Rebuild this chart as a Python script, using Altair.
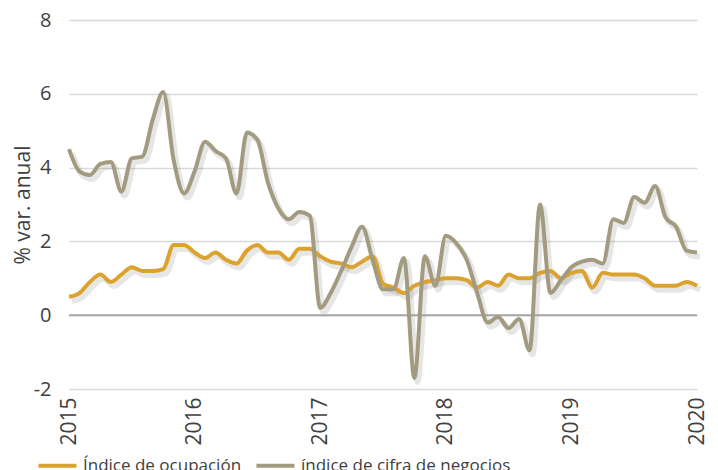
import altair as alt
import pandas as pd

ocupacion = [
    0.5, 0.6, 0.9, 1.1, 0.9, 1.1, 1.3, 1.2, 1.2, 1.25, 1.9, 1.9,
    1.7, 1.55, 1.7, 1.5, 1.4, 1.75, 1.9, 1.7, 1.7, 1.5, 1.8, 1.8,
    1.6, 1.45, 1.4, 1.3, 1.45, 1.6, 0.85, 0.75, 0.6, 0.8, 0.9, 0.95,
    1.0, 1.0, 0.95, 0.75, 0.9, 0.8, 1.1, 1.0, 1.0, 1.15, 1.2, 1.0,
    1.15, 1.2, 0.75, 1.15, 1.1, 1.1, 1.1, 1.0, 0.8, 0.8, 0.8, 0.9,
    0.8,
]
cifra = [
    4.5, 3.9, 3.8, 4.1, 4.15, 3.35, 4.25, 4.3, 5.3, 6.05, 4.2, 3.3,
    3.9, 4.7, 4.45, 4.25, 3.3, 4.95, 4.75, 3.6, 2.9, 2.6, 2.8, 2.7,
    0.2, 0.6, 1.2, 1.85, 2.4, 1.5, 0.7, 0.7, 1.55, -1.7, 1.6, 0.8,
    2.15, 1.95, 1.5, 0.6, -0.2, -0.05, -0.35, -0.1, -0.95, 3.0, 0.6, 0.95,
    1.3, 1.45, 1.5, 1.4, 2.6, 2.5, 3.2, 3.05, 3.5, 2.65, 2.4, 1.75,
    1.7,
]
series_names = ["Índice de ocupación", "índice de cifra de negocios"]
colors = ["#DCA22E", "#A39B7F"]
year_ticks = [2015, 2016, 2017, 2018, 2019, 2020]
y_ticks = [-2, 0, 2, 4, 6, 8]

rows = []
for name, vals in zip(series_names, [ocupacion, cifra]):
    for i, v in enumerate(vals):
        rows.append({"serie": name, "t": 2015 + i / 12, "v": v})
df = pd.DataFrame(rows)

FONT = "Open Sans"
TXT = "#404040"

x_enc = alt.X("t:Q", scale=alt.Scale(domain=[2015, 2020], nice=False),
              axis=alt.Axis(values=year_ticks, labelExpr="toString(datum.value)",
                            labelAngle=270, grid=False, domain=False, ticks=False,
                            labelFontSize=21, labelPadding=8, title=None,
                            labelColor=TXT, labelFont=FONT))
y_enc = alt.Y("v:Q", scale=alt.Scale(domain=[-2, 8], nice=False, zero=False),
              axis=alt.Axis(values=y_ticks, labelExpr="toString(datum.value)",
                            domain=False, ticks=False, grid=True,
                            gridColor="#d9d9d9", gridWidth=1.5,
                            labelFontSize=20, labelPadding=18,
                            labelColor=TXT, labelFont=FONT,
                            title="% var. anual", titleFontSize=21,
                            titleFontWeight="normal", titleColor=TXT,
                            titleFont=FONT, titlePadding=0))

base = alt.Chart(df)

zero = alt.Chart(pd.DataFrame({"z": [0]})).mark_rule(
    color="#a6a6a6", strokeWidth=2).encode(y=alt.Y("z:Q"))

shadow = base.mark_line(interpolate="monotone", strokeWidth=6, opacity=0.15,
                        xOffset=3, yOffset=4, color="#555555").encode(
    x=x_enc, y=y_enc, detail="serie:N")

lines = base.mark_line(interpolate="monotone", strokeWidth=4).encode(
    x=x_enc, y=y_enc,
    color=alt.Color("serie:N", scale=alt.Scale(domain=series_names, range=colors),
                    sort=series_names,
                    legend=alt.Legend(title=None, orient="none", direction="horizontal",
                                      legendX=-33, legendY=424,
                                      labelFontSize=17, labelFont=FONT,
                                      labelColor=TXT, labelLimit=0,
                                      symbolType="stroke", symbolSize=1450,
                                      symbolStrokeWidth=4, columnPadding=6,
                                      labelOffset=4)))

chart = alt.layer(shadow, zero, lines).properties(
    width=628, height=369,
    autosize=alt.AutoSizeParams(type="none"),
    padding={"left": 61, "top": 12, "right": 13, "bottom": 81},
).configure_view(stroke=None)

chart.save("out.html", embed_options={"renderer": "svg", "actions": False})
